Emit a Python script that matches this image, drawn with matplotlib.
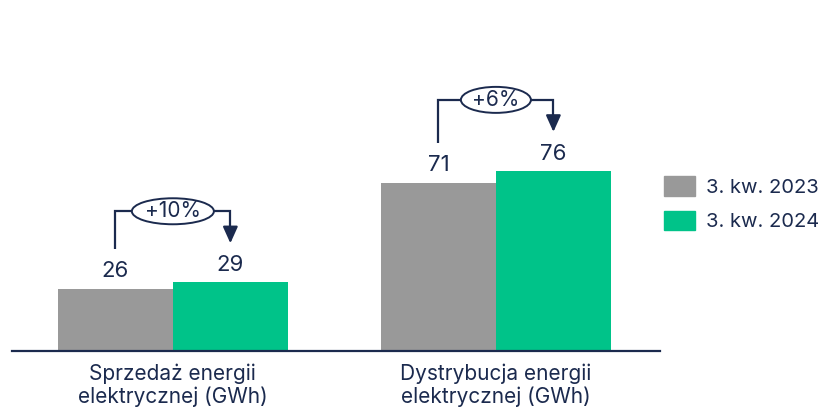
import matplotlib
matplotlib.use('Agg')
import matplotlib.pyplot as plt
from matplotlib.patches import Patch, Ellipse
import numpy as np

plt.rcParams['font.family'] = ['Inter', 'DejaVu Sans']

categories = ['Sprzedaż energii\nelektrycznej (GWh)', 'Dystrybucja energii\nelektrycznej (GWh)']
q3_2023 = [26, 71]
q3_2024 = [29, 76]
changes = ['+10%', '+6%']
series_labels = ['3. kw. 2023', '3. kw. 2024']

gray = '#999999'
green = '#00c389'
navy = '#1b2a4e'

W, H = 831, 408
fig = plt.figure(figsize=(W / 100, H / 100), dpi=100)
# axes placed in pixels: baseline at y=351, x from 12 to 660
ax = fig.add_axes([12 / W, (H - 351) / H, (660 - 12) / W, 351 / H])
px_x = 323.0   # pixels per x unit
px_y = 2.37    # pixels per y unit

x = np.arange(len(categories))
bw = 0.356
ax.bar(x - bw / 2, q3_2023, width=bw, color=gray, label=series_labels[0])
ax.bar(x + bw / 2, q3_2024, width=bw, color=green, label=series_labels[1])

ax.set_xlim(-0.498, 1.508)
ax.set_ylim(0, 351 / px_y)

for s in ['top', 'right', 'left']:
    ax.spines[s].set_visible(False)
ax.spines['bottom'].set_color(navy)
ax.spines['bottom'].set_linewidth(1.6)
ax.set_yticks([])
ax.set_xticks(x)
ax.set_xticklabels(categories, fontsize=15, color=navy, linespacing=1.15)
ax.tick_params(axis='x', length=0, pad=9)

for i in range(len(categories)):
    xl = x[i] - bw / 2
    xr = x[i] + bw / 2
    ax.annotate(str(q3_2023[i]), (xl, q3_2023[i]), xytext=(0, 8), textcoords='offset pixels',
                ha='center', va='bottom', fontsize=16, color=navy)
    ax.annotate(str(q3_2024[i]), (xr, q3_2024[i]), xytext=(0, 7), textcoords='offset pixels',
                ha='center', va='bottom', fontsize=16, color=navy)
    # bracket: up from the 2023 label, across, down with an arrow to the 2024 label
    y0 = q3_2023[i] + 40 / px_y
    ytop = q3_2024[i] + 71 / px_y
    ax.plot([xl, xl, xr, xr], [y0, ytop, ytop, q3_2024[i] + 54 / px_y],
            color=navy, lw=1.6, solid_capstyle='butt', solid_joinstyle='miter')
    ax.annotate('', xy=(xr, q3_2024[i] + 39 / px_y), xytext=(xr, q3_2024[i] + 55 / px_y),
                arrowprops=dict(arrowstyle='-|>,head_width=0.45,head_length=1.0',
                                color=navy, lw=1.6, shrinkA=0, shrinkB=0))
    ew = (len(changes[i]) * 12 + 34) / px_x
    ax.add_patch(Ellipse((x[i], ytop), ew, 26 / px_y, fc='white', ec=navy, lw=1.4, zorder=3))
    ax.text(x[i], ytop, changes[i], ha='center', va='center',
            fontsize=15, color=navy, zorder=4)

handles = [Patch(color=gray), Patch(color=green)]
fig.legend(handles, series_labels, loc='upper left', bbox_to_anchor=(664 / W, 1 - 176 / H),
           frameon=False, fontsize=14.5, labelcolor=navy, handlelength=1.55, handleheight=1.15,
           handletextpad=0.55, labelspacing=0.68, borderaxespad=0, borderpad=0)

plt.savefig('out.png', dpi=100)
